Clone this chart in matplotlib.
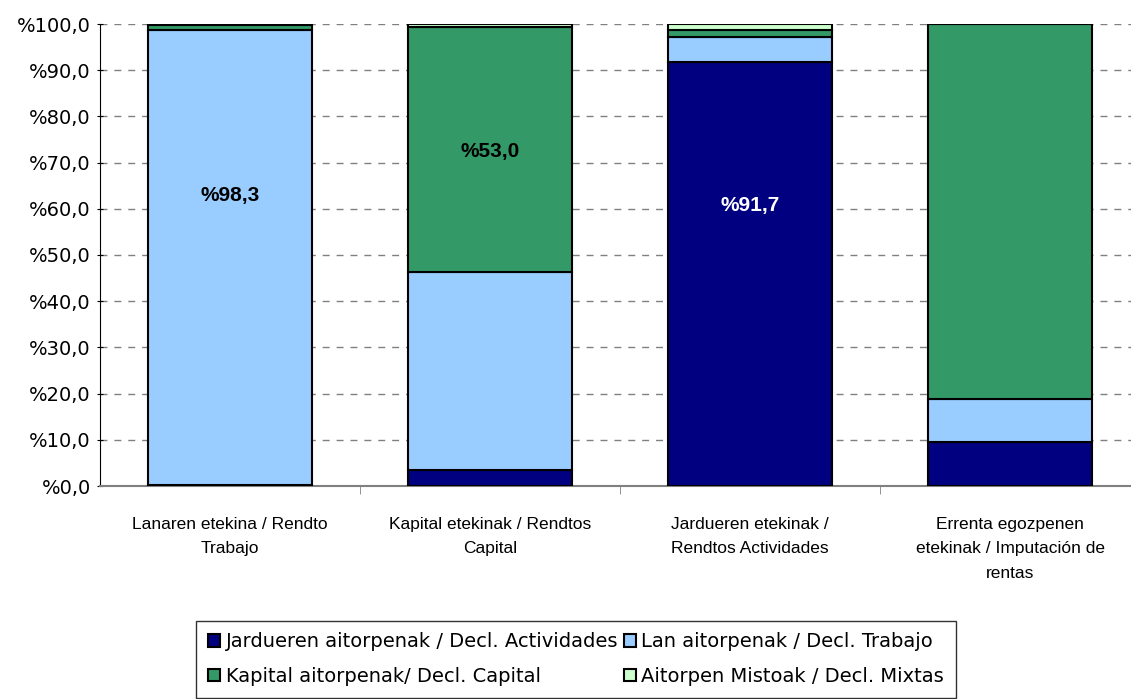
import matplotlib.pyplot as plt
import numpy as np

plt.rcParams['font.family'] = ['Liberation Sans', 'DejaVu Sans']

categories = ['Lanaren etekina / Rendto\nTrabajo',
              'Kapital etekinak / Rendtos\nCapital',
              'Jardueren etekinak /\nRendtos Actividades',
              'Errenta egozpenen\netekinak / Imputación de\nrentas']

series_names = ['Jardueren aitorpenak / Decl. Actividades',
                'Lan aitorpenak / Decl. Trabajo',
                'Kapital aitorpenak/ Decl. Capital',
                'Aitorpen Mistoak / Decl. Mixtas']
jardueren = [0.3, 3.5, 91.7, 9.5]
lan = [98.3, 42.8, 5.5, 9.3]
kapital = [1.2, 53.0, 1.4, 81.2]
mistoak = [0.2, 0.7, 1.4, 0.0]

labels = ['%98,3', '%53,0', '%91,7', '']
label_y = [62.8, 72.5, 60.8, 0]
label_colors = ['black', 'black', 'white', 'black']

colors = ['#000080', '#99CCFF', '#339966', '#CCFFCC']

fig = plt.figure(figsize=(11.31, 6.99), dpi=100)
ax = fig.add_axes([100 / 1131, 213 / 699, 1040 / 1131, 462 / 699])

x = np.arange(len(categories))
bottom = np.zeros(len(categories))
bars = []
for vals, col, name in zip([jardueren, lan, kapital, mistoak], colors, series_names):
    b = ax.bar(x, vals, width=0.627, bottom=bottom, color=col,
               edgecolor='black', linewidth=1.5, label=name, zorder=3)
    bars.append(b)
    bottom += np.array(vals)

for i, t in enumerate(labels):
    if t:
        ax.text(x[i], label_y[i], t, ha='center', va='center', fontsize=15,
                fontweight='bold', color=label_colors[i], zorder=4)

ax.set_xlim(-0.5, 3.5)
ax.set_ylim(0, 100)
ax.set_yticks(np.arange(0, 101, 10))
ax.set_yticklabels(['%{:.1f}'.format(v).replace('.', ',') for v in range(0, 101, 10)],
                   fontsize=14, family='DejaVu Sans')
ax.yaxis.grid(True, linestyle=(0, (5, 5)), color='#808080', linewidth=1, zorder=0)

ax.set_xticks(x)
ax.set_xticklabels(categories, fontsize=12.5, linespacing=1.8, va='top')
ax.tick_params(axis='x', which='major', length=0, pad=22)
ax.set_xticks([0.5, 1.5, 2.5], minor=True)
ax.tick_params(axis='x', which='minor', length=6, direction='out', color='#808080')
ax.tick_params(axis='y', length=5, direction='inout', pad=4)

for s in ['top', 'right']:
    ax.spines[s].set_visible(False)
ax.spines['bottom'].set_color('#808080')
ax.spines['bottom'].set_linewidth(1.5)
ax.spines['left'].set_color('black')

handles = [bars[0], bars[2], bars[1], bars[3]]
names = [series_names[0], series_names[2], series_names[1], series_names[3]]
leg = fig.legend(handles, names, loc='lower left', bbox_to_anchor=(0.165, -0.012),
                 ncol=2, frameon=True, fancybox=False, edgecolor='black',
                 prop={'family': 'DejaVu Sans', 'size': 14},
                 handlelength=0.6, handleheight=0.6, handletextpad=0.3,
                 columnspacing=0.3, labelspacing=0.8, borderpad=0.6)
leg.get_frame().set_linewidth(1)

fig.savefig('out.png', dpi=100)
